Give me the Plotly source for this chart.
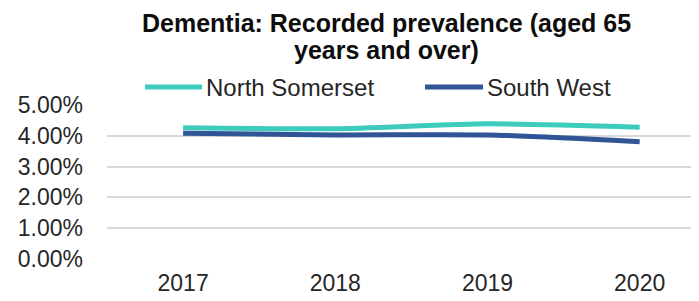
import plotly.graph_objects as go

years = ["2017", "2018", "2019", "2020"]
north_somerset = [0.0426, 0.0423, 0.0439, 0.0428]
south_west = [0.0408, 0.0403, 0.0403, 0.0381]
series_names = ["North Somerset", "South West"]
colors = ["#3DCBBD", "#2F5597"]
y_ticks = [0, 0.01, 0.02, 0.03, 0.04, 0.05]
title_lines = ["Dementia: Recorded prevalence (aged 65", "years and over)"]

W, H = 699, 301
OFF = 8  # page body margin shifts the figure by 8px
L, R, T, B = 107 - OFF, OFF, 105 - OFF, 50
pw, ph = W - L - R, H - T - B


def px_x(sx):
    return (sx - OFF - L) / pw


def px_y(sy):
    return (H - B - (sy - OFF)) / ph


fig = go.Figure()
for name, vals, col in zip(series_names, [north_somerset, south_west], colors):
    fig.add_trace(go.Scatter(
        x=years, y=vals, mode="lines", name=name,
        line=dict(color=col, width=5, shape="spline", smoothing=0.6),
        showlegend=False, hoverinfo="skip"))

font_fam = "Liberation Sans, Arial, sans-serif"

shapes = []
annotations = []
# custom legend with long line samples as in the original
legend_pos = [(145, 202), (425, 483)]
for (x0, x1), name, col in zip(legend_pos, series_names, colors):
    shapes.append(dict(type="line", xref="paper", yref="paper",
                       x0=px_x(x0), x1=px_x(x1), y0=px_y(87), y1=px_y(87),
                       line=dict(color=col, width=5)))
    annotations.append(dict(xref="paper", yref="paper", x=px_x(x1 + 2), y=px_y(87),
                            text=name, showarrow=False, xanchor="left", yanchor="middle",
                            font=dict(family=font_fam, size=24, color="#262626")))

# title as two centred lines
for line, sy in zip(title_lines, [23, 50]):
    annotations.append(dict(xref="paper", yref="paper", x=px_x(386), y=px_y(sy),
                            text="<b>" + line + "</b>", showarrow=False,
                            xanchor="center", yanchor="middle",
                            font=dict(family=font_fam, size=25, color="#0d0d0d")))

fig.update_layout(
    width=W, height=H,
    margin=dict(l=L, r=R, t=T, b=B),
    paper_bgcolor="white", plot_bgcolor="white",
    shapes=shapes, annotations=annotations,
    xaxis=dict(type="category", range=[-0.5, 3.39], showgrid=False, zeroline=False,
               showline=False, ticks="", automargin=False, ticklabelstandoff=8,
               tickfont=dict(family=font_fam, size=23, color="#262626")),
    yaxis=dict(range=[0, 0.05], tickvals=y_ticks, tickformat=".2%",
               showgrid=True, gridcolor="#D9D9D9", gridwidth=1.5, zeroline=False,
               showline=False, ticks="", ticklabelstandoff=23, automargin=False,
               tickfont=dict(family=font_fam, size=23, color="#262626")),
)
fig.write_html("out.html")
